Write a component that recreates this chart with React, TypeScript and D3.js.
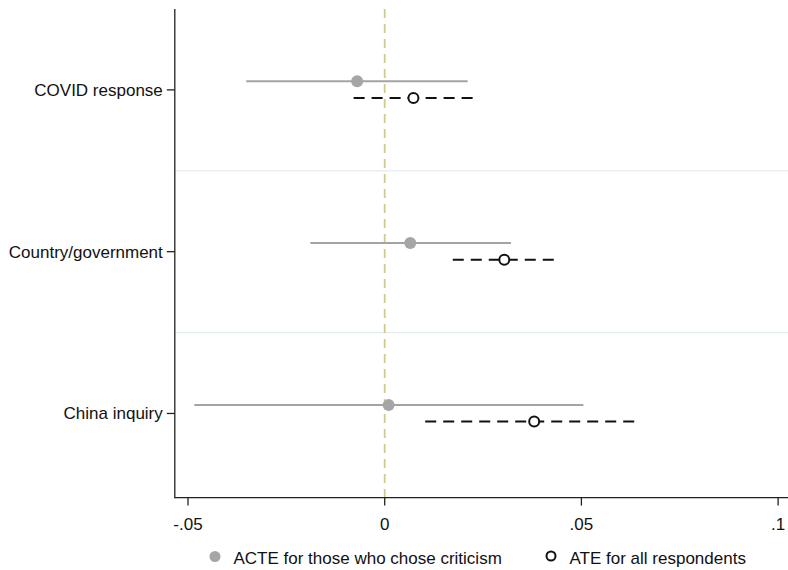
import React from "react";
import * as d3 from "d3";

const categories = ["COVID response", "Country/government", "China inquiry"];
const acteEst = [-0.007, 0.0065, 0.001];
const acteLo = [-0.0352, -0.0189, -0.0484];
const acteHi = [0.0211, 0.0321, 0.0505];
const ateEst = [0.0073, 0.0304, 0.038];
const ateLo = [-0.0079, 0.0173, 0.0103];
const ateHi = [0.0227, 0.0435, 0.0651];
const xTicks = [-0.05, 0, 0.05, 0.1];
const xTickLabels = ["-.05", "0", ".05", ".1"];
const legendLabels = ["ACTE for those who chose criticism", "ATE for all respondents"];

const W = 788;
const H = 570;
const FONT = "'Liberation Sans', Arial, Helvetica, sans-serif";

export default function App() {
  const x = d3.scaleLinear().domain([-0.05, 0.1]).range([188, 778.1]);
  const y = d3.scaleLinear().domain([0.5, 3.52]).range([9, 497.6]);
  const axisLeft = 174.8;
  const axisBottom = 497.6;
  const offG = -0.053;
  const offB = 0.05;

  return (
    <svg width={W} height={H} style={{ position: "absolute", left: 0, top: 0, background: "#fff" }}>
      {[1.5, 2.5].map((v) => (
        <line key={v} x1={axisLeft} x2={W} y1={y(v)} y2={y(v)} stroke="#e3ecee" strokeWidth={1.2} />
      ))}
      <line x1={x(0)} x2={x(0)} y1={y(0.5)} y2={axisBottom} stroke="#cfcb8a" strokeWidth={1.8} strokeDasharray="9,6" />
      {categories.map((c, i) => (
        <g key={"g" + c}>
          <line x1={x(acteLo[i])} x2={x(acteHi[i])} y1={y(i + 1 + offG)} y2={y(i + 1 + offG)} stroke="#a3a3a3" strokeWidth={2} />
          <circle cx={x(acteEst[i])} cy={y(i + 1 + offG)} r={6} fill="#a6a6a6" />
        </g>
      ))}
      {categories.map((c, i) => (
        <g key={"b" + c}>
          <line x1={x(ateLo[i])} x2={x(ateHi[i])} y1={y(i + 1 + offB)} y2={y(i + 1 + offB)} stroke="#111" strokeWidth={2} strokeDasharray="11,7" />
          <circle cx={x(ateEst[i])} cy={y(i + 1 + offB)} r={5} fill="#fff" stroke="#111" strokeWidth={2} />
        </g>
      ))}
      <line x1={axisLeft} x2={axisLeft} y1={y(0.5)} y2={axisBottom + 0.6} stroke="#222" strokeWidth={1.3} />
      <line x1={axisLeft} x2={W} y1={axisBottom} y2={axisBottom} stroke="#222" strokeWidth={1.3} />
      {categories.map((c, i) => (
        <g key={"t" + c}>
          <line x1={axisLeft - 8} x2={axisLeft} y1={y(i + 1)} y2={y(i + 1)} stroke="#222" strokeWidth={1.3} />
          <text x={axisLeft - 12} y={y(i + 1) + 6} textAnchor="end" fontFamily={FONT} fontSize={17} fill="#111">
            {c}
          </text>
        </g>
      ))}
      {xTicks.map((t, i) => (
        <g key={"x" + t}>
          <line x1={x(t)} x2={x(t)} y1={axisBottom} y2={axisBottom + 8} stroke="#222" strokeWidth={1.3} />
          <text x={x(t)} y={530} textAnchor="middle" fontFamily={FONT} fontSize={17} fill="#111">
            {xTickLabels[i]}
          </text>
        </g>
      ))}
      <circle cx={215} cy={556.5} r={5.5} fill="#a6a6a6" />
      <text x={233.5} y={564} fontFamily={FONT} fontSize={17} fill="#111">{legendLabels[0]}</text>
      <circle cx={551} cy={556} r={4.5} fill="#fff" stroke="#111" strokeWidth={2} />
      <text x={569.5} y={564} fontFamily={FONT} fontSize={17} fill="#111">{legendLabels[1]}</text>
    </svg>
  );
}
